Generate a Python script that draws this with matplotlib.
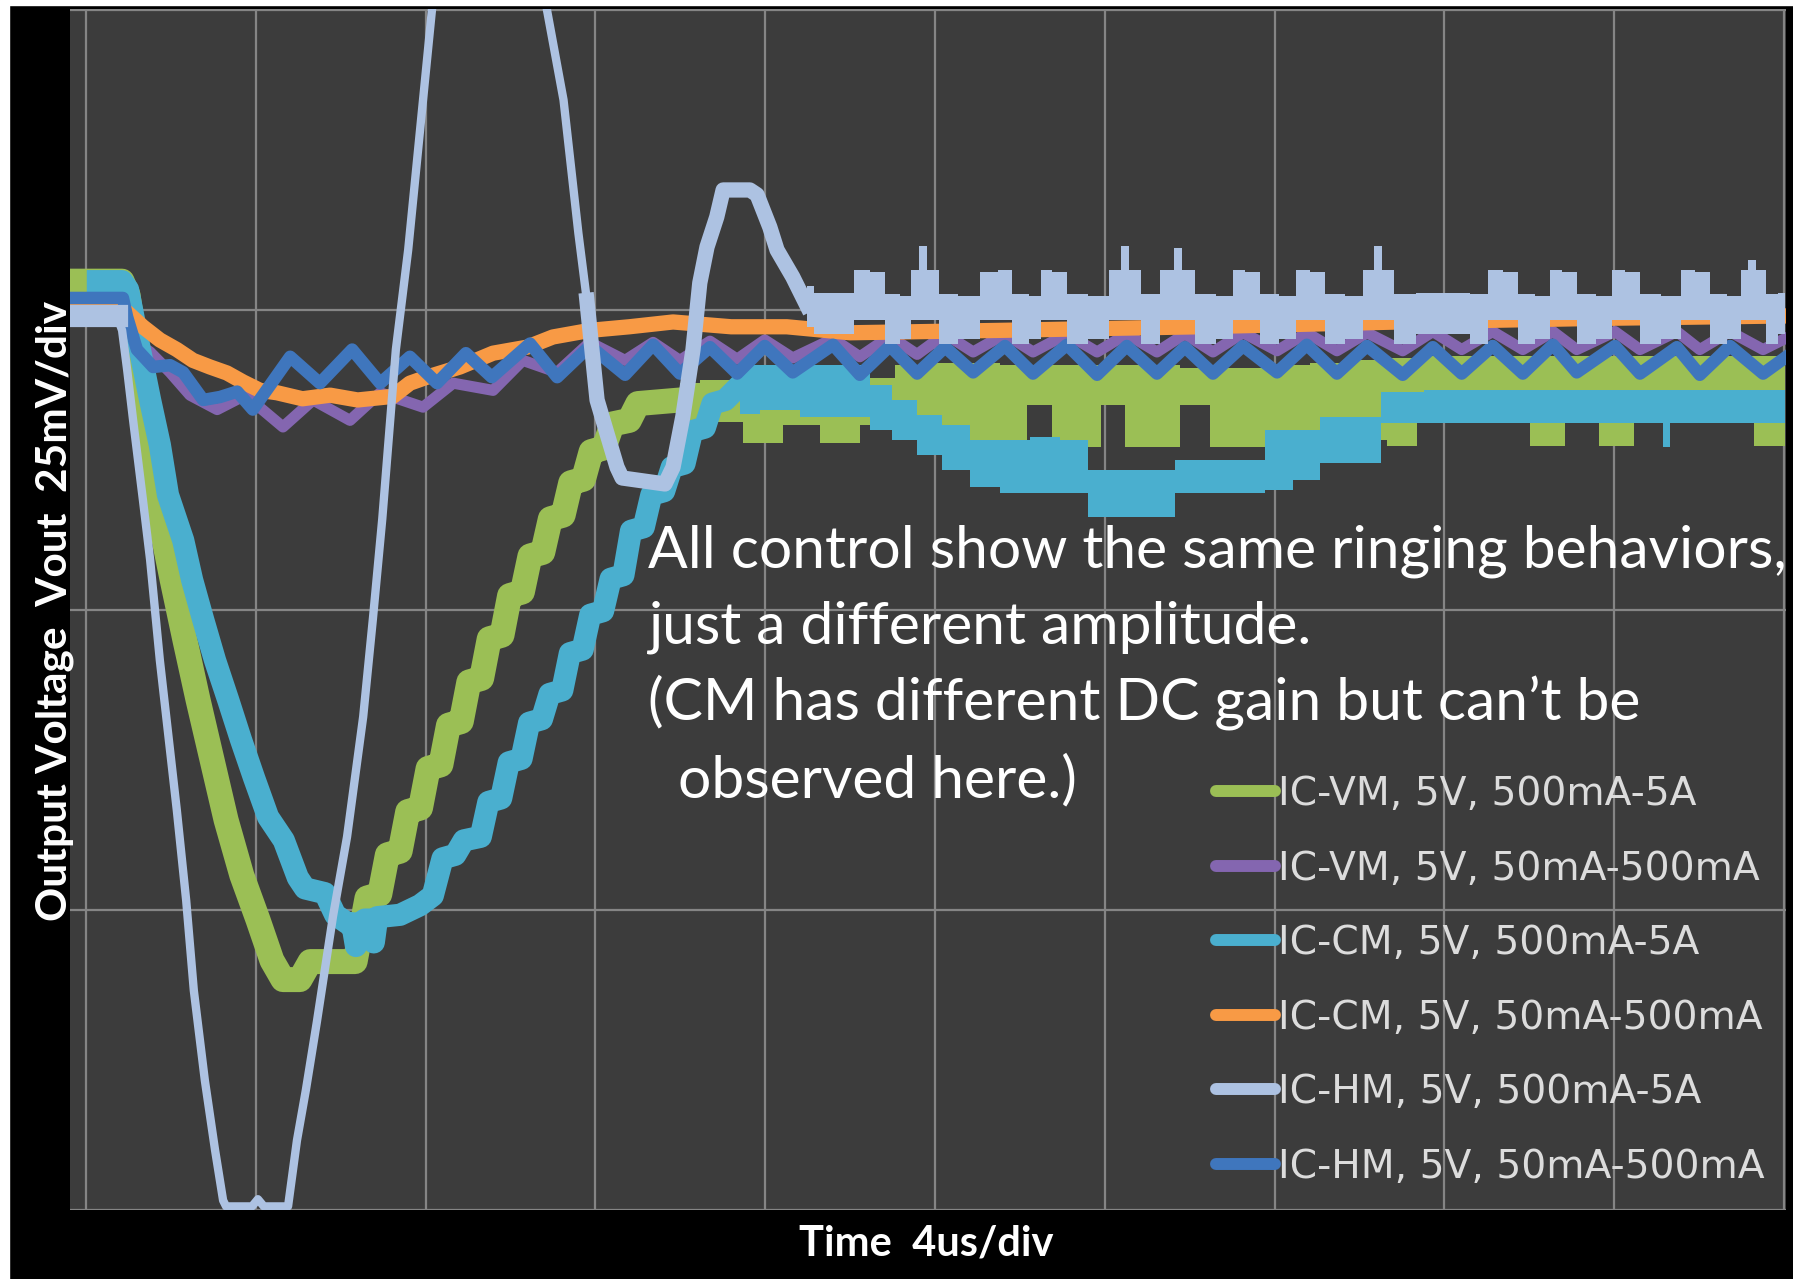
import numpy as np
import matplotlib.pyplot as plt
from matplotlib.lines import Line2D
from matplotlib.patches import Rectangle

# Load-step response of the three controllers.
# time in us, Vout in mV on the 25 mV/div screen (0 = bottom graticule line)

labels = ['IC-VM, 5V, 500mA-5A', 'IC-VM, 5V, 50mA-500mA', 'IC-CM, 5V, 500mA-5A',
          'IC-CM, 5V, 50mA-500mA', 'IC-HM, 5V, 500mA-5A', 'IC-HM, 5V, 50mA-500mA']
colors = ['#9bbf55', '#8466b0', '#4aafcf', '#f89a45', '#adc2e2', '#3f76bd']

# IC-VM 500mA-5A
t_vm5 = [-0.33, 0.85, 0.99, 1.22, 1.46, 1.70, 2.03, 2.33, 2.64, 2.97, 3.30, 3.67,
         4.05, 4.38, 4.64, 5.04, 5.28, 6.34, 6.62, 6.92, 7.10, 7.40, 7.58, 7.88,
         8.06, 8.36, 8.54, 8.84, 9.02, 9.32, 9.50, 9.80, 9.98, 10.28, 10.46, 10.76,
         10.94, 11.24, 11.42, 11.72, 11.90, 12.20, 12.40, 12.80, 13.00, 14.00]
v_vm5 = [77.4, 77.4, 76.25, 70.8, 64.2, 58.3, 52.5, 47.5, 42.5, 37.5, 32.5, 27.9,
         24.2, 20.8, 19.2, 19.2, 20.7, 20.7, 26.0, 26.3, 29.6, 29.9, 33.2, 33.5,
         36.8, 37.1, 40.4, 40.7, 44.0, 44.3, 47.6, 47.9, 51.2, 51.5, 54.5, 54.8,
         57.6, 57.9, 60.6, 60.9, 63.2, 63.5, 65.5, 65.8, 67.2, 67.5]
# settled part: noise envelope
t_vm5_ss = [13.99, 14.94, 16.00, 16.82, 17.76, 18.70, 19.41, 20.24, 21.18, 21.88,
            22.47, 23.06, 23.65, 24.19, 24.76, 25.42, 26.12, 26.83, 27.66, 28.36,
            29.31, 30.25, 31.07, 31.66, 32.60, 33.55, 34.49, 35.19, 36.09, 36.84,
            38.02, 38.96, 39.62, 40.02]
hi_vm5_ss = [68.9, 69.2, 68.9, 68.9, 68.9, 69.3, 70.4, 70.6, 70.6, 70.4,
             70.4, 70.4, 70.4, 70.4, 70.4, 70.4, 70.2, 70.2, 70.2, 70.4,
             70.6, 70.8, 71.0, 71.2, 71.2, 71.2, 71.2, 71.2, 71.2, 71.2,
             71.2, 71.2, 71.2, 71.2]
lo_vm5_ss = [65.4, 65.7, 63.9, 65.4, 63.9, 65.4, 64.2, 63.6, 64.2, 63.6,
             67.1, 63.6, 63.6, 67.1, 63.6, 63.6, 67.1, 63.6, 63.6, 63.6,
             63.6, 64.2, 63.7, 66.25, 66.25, 66.25, 63.7, 66.25, 63.7, 66.25,
             66.25, 66.25, 63.7, 63.7]

# IC-VM 50mA-500mA
t_vm05 = [-0.33, 0.80, 1.20, 1.51, 1.98, 2.45, 3.09, 3.75, 4.64, 5.35, 6.22, 6.93,
          7.94, 8.65, 9.59, 10.29, 11.10, 11.87, 12.70, 13.36, 13.99, 14.70, 15.34,
          15.99, 16.65, 17.60, 18.23, 18.94, 19.58, 20.24, 20.90, 21.65, 22.31,
          23.11, 23.82, 24.52, 25.23, 25.89, 26.55, 27.26, 28.06, 28.76, 29.47,
          30.18, 31.02, 31.73, 32.41, 33.14, 33.85, 34.56, 35.12, 36.02, 36.61,
          37.48, 38.02, 38.73, 39.51, 40.02]
v_vm05 = [75.8, 75.4, 72.25, 71.5, 69.8, 67.9, 66.7, 67.9, 65.25, 67.5, 65.8, 68.1,
          66.9, 68.9, 68.3, 70.8, 69.8, 72.3, 70.8, 72.3, 70.8, 72.4, 70.9,
          72.5, 71.0, 72.6, 71.1, 72.8, 71.3, 73.0, 71.5, 73.0, 71.5,
          73.0, 71.5, 73.0, 71.5, 73.0, 71.5, 73.1, 71.6, 73.1, 71.6,
          73.1, 71.6, 73.2, 71.7, 73.2, 71.7, 73.2, 71.7, 73.2, 71.7,
          73.2, 71.7, 73.2, 71.7, 72.6]

# IC-CM 500mA-5A
t_cm5 = [0.28, 0.85, 0.99, 1.27, 1.51, 1.74, 1.93, 2.29, 2.50, 2.76, 3.04, 3.35,
         3.65, 3.96, 4.29, 4.66, 4.99, 5.16, 5.63, 5.87, 6.22, 6.27, 6.36, 6.45,
         6.57, 6.70, 6.78, 6.86, 7.40, 7.87, 8.17, 8.40, 8.70, 8.90, 9.30, 9.48,
         9.78, 9.96, 10.26, 10.44, 10.74, 10.92, 11.22, 11.40, 11.70, 11.88, 12.18,
         12.36, 12.66, 12.84, 13.14, 13.32, 13.62, 13.80, 14.10, 14.28, 14.58,
         14.76, 15.06, 15.41]
v_cm5 = [77.4, 77.4, 76.7, 71.7, 67.5, 63.75, 59.6, 55.8, 52.5, 49.2, 45.8, 42.5,
         39.2, 36.0, 32.75, 30.8, 27.7, 26.8, 26.4, 24.6, 23.75, 23.9, 22.0, 23.9,
         24.2, 24.2, 22.3, 24.4, 24.6, 25.4, 26.2, 29.3, 29.6, 30.8, 31.1, 34.0,
         34.3, 37.3, 37.6, 40.6, 40.9, 43.0, 43.3, 46.4, 46.7, 49.6, 49.9,
         52.6, 52.9, 56.6, 56.9, 59.6, 59.9, 61.9, 62.2, 64.9, 65.2,
         67.2, 67.5, 68.75]
t_cm5_ss = [15.41, 16.35, 17.29, 18.23, 18.70, 19.29, 19.88, 20.47, 21.18, 21.88,
            22.59, 23.30, 23.89, 24.59, 25.30, 26.01, 26.71, 27.42, 28.13, 28.72,
            29.42, 30.13, 30.91, 32.13, 33.31, 34.72, 36.14, 37.08, 37.24, 37.41,
            37.79, 38.96, 40.02]
hi_cm5_ss = [70.4, 70.4, 70.4, 70.4, 68.75, 67.5, 66.25, 65.4, 64.2, 64.2,
             64.4, 64.2, 61.7, 61.7, 61.7, 62.5, 62.5, 62.5, 65.0, 65.0,
             66.1, 66.1, 68.2, 68.3, 68.3, 68.3, 68.3, 68.3, 68.3, 68.3,
             68.3, 68.3, 68.3]
lo_cm5_ss = [66.3, 66.7, 66.1, 66.1, 65.0, 64.2, 62.9, 61.7, 60.25, 59.75,
             59.75, 59.75, 57.75, 57.75, 57.75, 59.75, 59.75, 59.75, 60.0, 60.8,
             62.25, 62.25, 65.6, 65.6, 65.6, 65.6, 65.6, 65.6, 63.6, 65.6,
             65.6, 65.6, 65.6]

# IC-CM 50mA-500mA
t_cm05 = [-0.33, 0.80, 0.97, 1.34, 1.74, 2.14, 2.52, 2.92, 3.32, 3.70, 4.10, 4.50,
          5.10, 5.75, 6.40, 7.23, 7.63, 8.03, 8.81, 9.59, 10.39, 11.00, 11.87, 12.80,
          13.83, 15.20, 16.51, 18.00, 21.53, 26.24, 30.95, 35.67, 40.02]
v_cm05 = [75.2, 75.2, 74.8, 73.6, 72.5, 71.7, 70.8, 70.25, 69.75, 69.0, 68.3, 68.1,
          67.6, 67.9, 67.5, 67.8, 68.9, 69.4, 70.25, 71.4, 71.9, 72.75, 73.3, 73.6,
          74.0, 73.6, 73.6, 73.1, 73.3, 73.6, 74.0, 74.3, 74.5]

# IC-HM 500mA-5A (goes off screen at the top and bottom)
t_hm5 = [-0.33, 0.73, 0.85, 0.97, 1.11, 1.34, 1.51, 1.74, 2.14, 2.36,
         2.54, 2.80, 3.04, 3.23, 3.30, 3.91, 4.05, 4.19, 4.76, 4.97,
         5.18, 5.44, 5.82, 6.15, 6.53, 6.76, 6.98, 7.30, 7.59, 8.15,
         8.55, 9.05, 9.65, 10.30, 10.86, 11.25, 11.60, 11.80, 12.04, 12.27,
         12.51, 12.63, 13.64, 13.83, 14.06, 14.30, 14.46, 14.63, 14.86, 15.01,
         15.64, 15.81, 16.11, 16.28, 16.65, 16.98]
v_hm5 = [74.5, 74.5, 73.3, 70.0, 65.8, 59.2, 54.2, 45.8, 33.3, 25.8,
         18.3, 10.8, 5.0, 0.8, 0.3, 0.3, 0.9, 0.3, 0.3, 5.8,
         10.0, 15.7, 24.5, 31.1, 41.1, 49.3, 57.6, 71.7, 80.0, 100.0,
         110.8, 117.5, 118.3, 113.3, 100.0, 92.5, 81.4, 75.8, 67.5, 64.75,
         61.9, 61.0, 60.5, 61.9, 66.1, 71.7, 77.25, 80.25, 82.75, 85.0,
         85.0, 84.6, 81.9, 80.0, 77.75, 75.4]
t_hm5_ss = [16.98, 17.34, 17.88, 18.30, 18.63, 19.01, 19.36, 19.53, 19.72, 19.91,
            20.28, 20.82, 21.32, 21.65, 22.00, 22.43, 22.59, 22.92, 23.30, 23.89,
            24.29, 24.48, 24.66, 25.06, 25.54, 25.72, 25.91, 26.36, 26.90, 27.14,
            27.47, 27.84, 28.36, 28.67, 29.00, 29.38, 29.92, 30.25, 30.44, 30.62,
            31.00, 31.66, 32.37, 32.84, 33.22, 33.55, 33.92, 34.37, 34.61, 34.94,
            35.31, 35.83, 36.09, 36.42, 36.80, 37.43, 37.74, 38.07, 38.45, 38.89,
            39.08, 39.25, 39.42, 39.72, 40.02]
hi_hm5_ss = [77.0, 76.4, 76.4, 78.3, 78.2, 76.3, 76.2, 78.3, 80.3, 78.3,
             76.3, 76.2, 78.2, 78.3, 76.3, 76.2, 78.3, 78.2, 76.3, 76.2,
             78.3, 80.3, 78.3, 76.3, 78.3, 80.2, 78.3, 76.3, 76.2, 78.3,
             78.2, 76.3, 76.2, 78.3, 78.2, 76.3, 76.2, 78.3, 80.3, 78.3,
             76.3, 76.4, 76.4, 76.3, 78.3, 78.2, 76.3, 76.2, 78.3, 78.2,
             76.3, 76.2, 78.3, 78.2, 76.3, 76.2, 78.3, 78.2, 76.3, 76.2,
             78.3, 79.2, 78.3, 76.3, 76.4]
lo_hm5_ss = [73.6, 73.0, 73.0, 74.2, 74.2, 72.2, 72.6, 74.2, 74.2, 74.2,
             72.2, 72.6, 74.2, 74.2, 72.2, 72.6, 74.2, 74.2, 72.2, 72.6,
             74.2, 74.2, 74.2, 72.2, 74.2, 74.2, 74.2, 72.2, 72.6, 74.2,
             74.2, 72.2, 72.6, 74.2, 74.2, 72.2, 72.6, 74.2, 74.2, 74.2,
             72.2, 73.0, 73.0, 72.2, 74.2, 74.2, 72.2, 72.6, 74.2, 74.2,
             72.2, 72.6, 74.2, 74.2, 72.2, 72.6, 74.2, 74.2, 72.2, 72.6,
             74.2, 74.2, 74.2, 72.2, 73.0]

# IC-HM 50mA-500mA
t_hm05 = [-0.33, 0.87, 0.97, 1.20, 1.58, 1.98, 2.29, 2.76, 3.16, 3.56, 3.93,
          4.81, 5.51, 6.27, 6.93, 7.63, 8.27, 8.95, 9.56, 10.46, 11.10,
          11.87, 12.70, 13.36, 13.99, 14.70, 15.34, 15.99, 16.65, 17.60, 18.23,
          18.94, 19.58, 20.24, 20.90, 21.65, 22.31, 23.11, 23.82, 24.52, 25.23,
          25.89, 26.55, 27.26, 28.06, 28.76, 29.47, 30.18, 31.02, 31.73, 32.41,
          33.14, 33.85, 34.56, 35.12, 36.02, 36.61, 37.48, 38.02, 38.73, 39.51, 40.02]
v_hm05 = [76.0, 76.0, 74.4, 71.7, 70.25, 70.4, 69.8, 67.5, 67.75, 68.2, 66.7,
          71.1, 68.9, 71.7, 68.9, 71.1, 68.9, 71.4, 69.4, 72.2, 69.4,
          72.0, 69.6, 72.1, 69.7, 71.9, 69.7, 72.0, 69.8, 72.1, 69.6,
          72.0, 69.7, 71.9, 69.8, 72.0, 69.7, 72.1, 69.6, 72.0, 69.7,
          71.9, 69.7, 72.0, 69.8, 72.1, 69.7, 72.0, 69.6, 71.9, 69.7,
          72.0, 69.7, 72.1, 69.8, 72.0, 69.7, 71.9, 69.6, 72.0, 69.7, 71.0]

note_lines = ['All control show the same ringing behaviors,',
              'just a different amplitude.',
              '(CM has different DC gain but can\u2019t be',
              '  observed here.)']

W, H = 1793, 1279
fig = plt.figure(figsize=(W / 100, H / 100), dpi=100, facecolor='black')
# screenshot border on the left and top
fig.patches.append(Rectangle((0, 0), 9 / W, 1, transform=fig.transFigure, color='white', zorder=0))
fig.patches.append(Rectangle((0, 1 - 5 / H), 1, 5 / H, transform=fig.transFigure, color='white', zorder=0))

ax = fig.add_axes([70 / W, 1 - 1210 / H, (1786 - 70) / W, (1210 - 9) / H])
ax.set_facecolor('#3c3c3c')
ax.set_xlim(-0.377, 40.05)
ax.set_ylim(0, 100.08)
ax.set_xticks(np.arange(0, 41, 4))
ax.set_yticks([0, 25, 50, 75, 100])
ax.grid(True, color='#858585', lw=1.6)
ax.set_axisbelow(True)
ax.tick_params(length=0, labelbottom=False, labelleft=False)
for s in ax.spines.values():
    s.set_visible(False)

c_vm5, c_vm05, c_cm5, c_cm05, c_hm5, c_hm05 = colors

ax.plot(t_vm5, v_vm5, color=c_vm5, lw=18, zorder=2)
ax.fill_between(t_vm5_ss, lo_vm5_ss, hi_vm5_ss, step='mid', color=c_vm5, lw=0, zorder=2)

ax.plot(t_vm05, v_vm05, color=c_vm05, lw=8, zorder=3)

ax.plot(t_cm5, v_cm5, color=c_cm5, lw=16, zorder=4)
ax.fill_between(t_cm5_ss, lo_cm5_ss, hi_cm5_ss, step='mid', color=c_cm5, lw=0, zorder=4)

ax.plot(t_cm05, v_cm05, color=c_cm05, lw=11, zorder=5)
ax.plot(t_hm05, v_hm05, color=c_hm05, lw=9, zorder=6)

ax.plot(t_hm5[:2], v_hm5[:2], color=c_hm5, lw=16, zorder=7)
ax.plot(t_hm5[1:38], v_hm5[1:38], color=c_hm5, lw=6, zorder=7)
ax.plot(t_hm5[37:], v_hm5[37:], color=c_hm5, lw=11, zorder=7)
ax.fill_between(t_hm5_ss, lo_hm5_ss, hi_hm5_ss, step='mid', color=c_hm5, lw=0, zorder=7)

# note on the plot
note_y = [568, 644, 720, 797]
for line, y in zip(note_lines, note_y):
    fig.text(648 / W, 1 - y / H, line, color='white', family='Lato', fontsize=42.3,
             va='baseline', ha='left')

handles = [Line2D([], [], color=c, lw=8.6, solid_capstyle='round') for c in colors]
leg = fig.legend(handles, labels, loc='upper left', bbox_to_anchor=(1216 / W, 1 - 775 / H),
                 frameon=False, prop={'family': 'DejaVu Sans', 'size': 28.3},
                 handlelength=1.5, handletextpad=0.08, labelspacing=0.93,
                 borderpad=0, borderaxespad=0)
for txt in leg.get_texts():
    txt.set_color('#dcdcdc')

fig.text(55 / W, 1 - 611 / H, 'Output Voltage  Vout  25mV/div', rotation=90,
         color='white', family='Lato', fontweight='bold', fontsize=30.5,
         ha='center', va='center')
fig.text(926 / W, 1 - 1244 / H, 'Time  4us/div', color='white', family='Lato',
         fontweight='bold', fontsize=30, ha='center', va='center')

fig.savefig('out.png', dpi=100, facecolor=fig.get_facecolor())
